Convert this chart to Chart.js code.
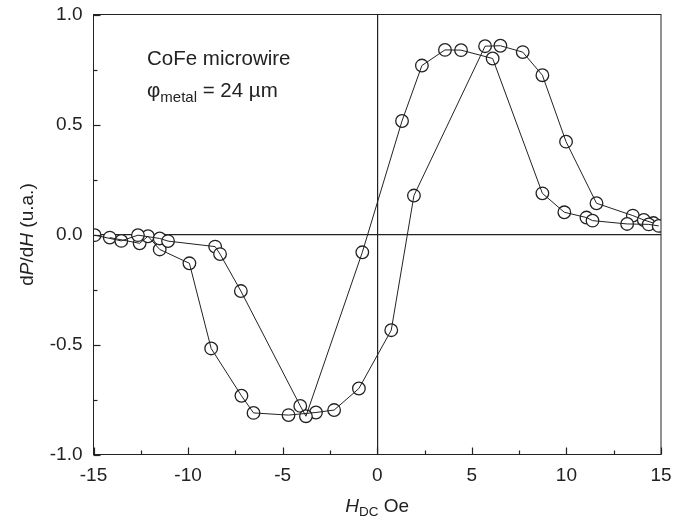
<!DOCTYPE html>
<html>
<head>
<meta charset="utf-8">
<script src="https://cdn.jsdelivr.net/npm/chart.js@4/dist/chart.umd.min.js"></script>
<style>
html,body{margin:0;padding:0;background:#fff;}
#wrap{width:685px;height:521px;position:relative;}
canvas{display:block;}
</style>
</head>
<body>
<div id="wrap"><canvas id="c" width="685" height="521"></canvas></div>
<script>
// ---- data ----
const branchAx = [-14.94, -13.53, -12.65, -11.50, -11.06, -8.57, -8.31, -7.21, -4.07, -3.77, -0.79, 1.31, 2.36, 3.58, 4.43, 6.10, 8.73, 9.89, 11.06, 11.38, 13.21, 14.35, 14.88];
const branchAy = [-0.003, -0.029, -0.003, -0.018, -0.030, -0.055, -0.089, -0.257, -0.779, -0.826, -0.081, 0.516, 0.768, 0.839, 0.838, 0.800, 0.187, 0.101, 0.077, 0.063, 0.048, 0.046, 0.039];
const branchBx = [-14.14, -12.56, -12.12, -11.50, -9.93, -8.78, -7.18, -6.54, -4.69, -3.24, -2.28, -0.97, 0.74, 1.94, 5.70, 6.51, 7.69, 8.73, 9.98, 11.59, 13.51, 14.09, 14.60];
const branchBy = [-0.014, -0.040, -0.008, -0.068, -0.131, -0.518, -0.733, -0.811, -0.821, -0.809, -0.798, -0.700, -0.435, 0.177, 0.856, 0.858, 0.829, 0.724, 0.422, 0.142, 0.086, 0.066, 0.052];
const xTickLabels = [-15, -10, -5, 0, 5, 10, 15];
const yTickLabels = [-1.0, -0.5, 0.0, 0.5, 1.0];

const toPts = (xs, ys) => xs.map((x, i) => ({x: x, y: ys[i]}));
const INK = '#222';
const FONT = "'Liberation Sans', Arial, sans-serif";

const lineStyle = {showLine: true, borderColor: INK, borderWidth: 1, pointRadius: 0, fill: false, tension: 0};
const dotStyle = {showLine: false, pointRadius: 6.3, pointBorderWidth: 1.3, pointBorderColor: INK, pointBackgroundColor: '#fff'};

const framePlugin = {
  id: 'frame',
  afterDraw(chart) {
    const {ctx, chartArea: a, scales} = chart;
    const xs = scales.x, ys = scales.y;
    ctx.save();
    ctx.strokeStyle = INK;
    ctx.lineWidth = 1;
    ctx.strokeRect(a.left, a.top, a.right - a.left, a.bottom - a.top);
    // inward ticks
    ctx.lineWidth = 1.2;
    for (let v = -15; v <= 15.001; v += 2.5) {
      const px = Math.round(xs.getPixelForValue(v)) + 0.5;
      const len = (Math.abs(v % 5) < 1e-6) ? 7 : 4;
      ctx.beginPath(); ctx.moveTo(px, a.bottom); ctx.lineTo(px, a.bottom - len); ctx.stroke();
    }
    for (let v = -1; v <= 1.001; v += 0.25) {
      const py = Math.round(ys.getPixelForValue(v)) + 0.5;
      const len = (Math.abs(v % 0.5) < 1e-6) ? 7 : 4;
      ctx.beginPath(); ctx.moveTo(a.left, py); ctx.lineTo(a.left + len, py); ctx.stroke();
    }
    ctx.fillStyle = INK;
    ctx.textBaseline = 'alphabetic';
    // x title: H_DC Oe
    const big = 19, small = 13.5;
    ctx.font = `italic ${big}px ${FONT}`;
    const wH = ctx.measureText('H').width;
    ctx.font = `${small}px ${FONT}`;
    const wDC = ctx.measureText('DC').width;
    ctx.font = `${big}px ${FONT}`;
    const wOe = ctx.measureText(' Oe').width;
    const cx = (a.left + a.right) / 2;
    let x0 = cx - (wH + wDC + wOe) / 2;
    const by = 512;
    ctx.font = `italic ${big}px ${FONT}`; ctx.fillText('H', x0, by); x0 += wH;
    ctx.font = `${small}px ${FONT}`; ctx.fillText('DC', x0, by + 4); x0 += wDC;
    ctx.font = `${big}px ${FONT}`; ctx.fillText(' Oe', x0, by);
    // y title: dP/dH (u.a.)
    ctx.save();
    const cy = (a.top + a.bottom) / 2;
    ctx.translate(33, cy);
    ctx.rotate(-Math.PI / 2);
    const parts = [['d', false], ['P', true], ['/d', false], ['H', true], [' (u.a.)', false]];
    let tw = 0;
    parts.forEach(p => { ctx.font = `${p[1] ? 'italic ' : ''}${big}px ${FONT}`; tw += ctx.measureText(p[0]).width; });
    let yx = -tw / 2;
    parts.forEach(p => { ctx.font = `${p[1] ? 'italic ' : ''}${big}px ${FONT}`; ctx.fillText(p[0], yx, 0); yx += ctx.measureText(p[0]).width; });
    ctx.restore();
    // annotation
    ctx.font = `20.5px ${FONT}`;
    ctx.fillText('CoFe microwire', 147, 65);
    let ax = 147;
    ctx.font = `20.5px ${FONT}`; ctx.fillText('\u03C6', ax, 97); ax += ctx.measureText('\u03C6').width;
    ctx.font = `15px ${FONT}`; ctx.fillText('metal', ax, 102); ax += ctx.measureText('metal').width;
    ctx.font = `20.5px ${FONT}`; ctx.fillText(' = 24 \u00B5m', ax, 97);
    ctx.restore();
  }
};

new Chart(document.getElementById('c'), {
  type: 'scatter',
  data: {
    datasets: [
      Object.assign({data: toPts(branchAx, branchAy)}, lineStyle),
      Object.assign({data: toPts(branchBx, branchBy)}, lineStyle),
      Object.assign({data: toPts(branchAx, branchAy)}, dotStyle),
      Object.assign({data: toPts(branchBx, branchBy)}, dotStyle)
    ]
  },
  options: {
    responsive: false,
    animation: false,
    devicePixelRatio: 1,
    layout: {padding: {left: 0, right: 24, top: 14.5, bottom: 0}},
    plugins: {legend: {display: false}, tooltip: {enabled: false}},
    scales: {
      x: {
        type: 'linear', min: -15, max: 15,
        afterFit(s) { s.height = 66.5; s.paddingLeft = 0; s.paddingRight = 0; },
        border: {display: false},
        grid: {drawTicks: false, lineWidth: 1.2,
          color: c => (c.tick && c.tick.value === 0) ? INK : 'rgba(0,0,0,0)'},
        afterBuildTicks(s) { s.ticks = xTickLabels.map(v => ({value: v})); },
        ticks: {padding: 10, color: INK, font: {family: FONT, size: 19},
          callback: v => String(v)}
      },
      y: {
        type: 'linear', min: -1, max: 1,
        afterFit(s) { s.width = 93.5; s.paddingTop = 0; s.paddingBottom = 0; },
        border: {display: false},
        grid: {drawTicks: false, lineWidth: 1.2,
          color: c => (c.tick && c.tick.value === 0) ? INK : 'rgba(0,0,0,0)'},
        afterBuildTicks(s) { s.ticks = yTickLabels.map(v => ({value: v})); },
        ticks: {padding: 11, color: INK, font: {family: FONT, size: 19},
          callback: v => Number(v).toFixed(1)}
      }
    }
  },
  plugins: [framePlugin]
});
</script>
</body>
</html>
